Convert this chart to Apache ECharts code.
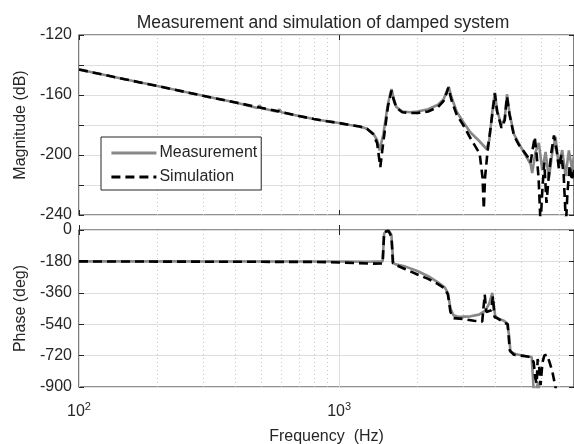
<!DOCTYPE html>
<html>
<head>
<meta charset="utf-8">
<script src="https://cdn.jsdelivr.net/npm/echarts@6/dist/echarts.min.js"></script>
<style>
  html, body { margin: 0; padding: 0; background: #fff; }
  #chart { width: 574px; height: 444px; }
</style>
</head>
<body>
<div id="chart"></div>
<script>
// frequency (Hz), magnitude (dB)
const magMeasured = [
    [100, -143], [150, -149.5], [200, -154], [300, -160.5], [400, -165], [485, -168.6], [495, -167], [505, -168.9],
    [580, -171.2], [590, -169.6], [600, -171.5], [700, -174], [800, -176], [900, -177.5], [1000, -178.7],
    [1100, -180], [1200, -181], [1280, -182.5], [1350, -185.5], [1400, -190], [1430, -197], [1445, -198],
    [1480, -186], [1540, -166], [1590, -156], [1620, -162], [1660, -168], [1750, -171], [1870, -171.5],
    [2000, -171], [2200, -169.5], [2400, -166.5], [2520, -163], [2600, -157], [2640, -154.5], [2700, -161],
    [2830, -171], [3000, -178], [3200, -185], [3450, -190.5], [3690, -196], [3780, -190], [3900, -168],
    [3970, -158.5], [4050, -170], [4200, -180], [4330, -176], [4420, -159.5], [4520, -172], [4700, -186],
    [4900, -192], [5200, -200], [5450, -206], [5525, -212], [5690, -198], [5860, -192], [6040, -210],
    [6220, -198], [6405, -215.6], [6595, -199], [6795, -188], [6995, -208], [7205, -196.7], [7425, -214],
    [7645, -197], [7875, -210], [8000, -200]
];
const magSimulated = [
    [100, -143], [150, -149.5], [200, -154], [300, -160.5], [400, -165], [500, -168.5], [600, -171.3],
    [700, -174], [800, -176], [900, -177.5], [1000, -178.7], [1100, -180], [1200, -181], [1280, -182.5],
    [1350, -186], [1400, -192], [1440, -208], [1470, -195], [1540, -168], [1590, -157], [1620, -163],
    [1660, -168.5], [1750, -171.5], [1870, -172], [2000, -172], [2200, -171], [2400, -168], [2520, -164],
    [2600, -158], [2630, -155], [2700, -163], [2830, -173], [3000, -180], [3180, -188], [3470, -199],
    [3560, -215], [3600, -236], [3640, -215], [3720, -198], [3900, -170], [3970, -159], [4050, -171],
    [4210, -182], [4330, -177], [4420, -161], [4520, -173], [4700, -187], [4900, -193], [5100, -197],
    [5300, -201], [5450, -205], [5550, -196], [5650, -188], [5750, -200], [5850, -216], [5950, -246],
    [6050, -222], [6150, -205], [6270, -232], [6400, -214], [6550, -198], [6700, -187], [6850, -196],
    [7000, -209], [7150, -200], [7300, -213], [7450, -246], [7550, -225], [7700, -207], [7850, -217],
    [8000, -210]
];
// frequency (Hz), phase (deg)
const phaseMeasured = [
    [100, -180], [1000, -181], [1300, -182], [1470, -180], [1490, -20], [1510, -8], [1560, -8], [1590, -30],
    [1615, -190], [1650, -197], [1800, -210], [2000, -235], [2200, -265], [2400, -300], [2550, -330],
    [2620, -360], [2680, -450], [2750, -488], [2900, -498], [3200, -495], [3450, -485], [3650, -462],
    [3780, -420], [3880, -360], [3930, -370], [3980, -490], [4050, -505], [4300, -520], [4420, -535],
    [4500, -600], [4560, -700], [4800, -712], [5200, -722], [5500, -728], [5580, -730], [5620, -960],
    [5830, -870], [5900, -980], [8000, -990]
];
const phaseSimulated = [
    [100, -180], [800, -183], [1000, -186], [1350, -193], [1470, -192], [1490, -12], [1550, -5],
    [1590, -40], [1610, -190], [1650, -200], [1800, -225], [2000, -255], [2200, -280], [2400, -310],
    [2550, -335], [2620, -370], [2680, -470], [2750, -505], [3000, -510], [3300, -520], [3550, -525],
    [3600, -520], [3630, -370], [3680, -470], [3850, -460], [3900, -380], [3960, -500], [4050, -505],
    [4300, -530], [4450, -540], [4530, -690], [4700, -715], [5000, -720], [5300, -725], [5500, -732],
    [5580, -740], [5600, -760], [5680, -850], [5750, -880], [5800, -740], [5880, -790], [5950, -890],
    [6050, -760], [6150, -720], [6300, -715], [6450, -760], [6600, -810], [6700, -820], [6800, -905],
    [6900, -960], [8000, -990]
];
const minorFreqs = [200, 300, 400, 500, 600, 700, 800, 900, 2000, 3000, 4000, 5000, 6000, 7000];
const magRange = [-240, -120, 20];
const phaseRange = [-900, 0, 180];
const freqRange = [100, 8000];

const ink = '#262626';
const font = 'Liberation Sans, Arial, sans-serif';
const chart = echarts.init(document.getElementById('chart'));

const grids = [
    { left: 79, right: 0, top: 35, height: 180 },
    { left: 79, right: 0, top: 230, height: 157 }
];

function powLabel(v) {
    const e = Math.round(Math.log10(v));
    if (Math.abs(Math.pow(10, e) - v) > 1e-6 * v) return '';
    return '{b|10}{s|' + e + '}';
}

function xAxes(gridIndex, showLabel) {
    const base = {
        type: 'log', logBase: 10, gridIndex: gridIndex,
        min: freqRange[0], max: freqRange[1],
        axisLine: { show: false },
        axisTick: { show: true, inside: true, length: 5, lineStyle: { color: ink } },
        splitLine: { show: false },
        axisLabel: { show: false }
    };
    const bottom = Object.assign({}, base, {
        position: 'bottom',
        splitLine: { show: true, lineStyle: { color: '#dedede', width: 1 } },
        axisLabel: {
            show: showLabel, formatter: powLabel, margin: 14, color: ink,
            rich: {
                b: { fontSize: 16, fontFamily: font, color: ink, lineHeight: 22 },
                s: { fontSize: 11, fontFamily: font, color: ink, lineHeight: 11, verticalAlign: 'top' }
            }
        }
    });
    if (showLabel) {
        bottom.name = 'Frequency  (Hz)';
        bottom.nameLocation = 'middle';
        bottom.nameGap = 42;
        bottom.nameTextStyle = { fontSize: 16, fontFamily: font, color: ink };
    }
    const top = Object.assign({}, base, { position: 'top' });
    return [bottom, top];
}

function yAxes(gridIndex, range, name, labelStep) {
    const left = {
        type: 'value', gridIndex: gridIndex, position: 'left',
        min: range[0], max: range[1], interval: range[2],
        name: name, nameLocation: 'middle', nameGap: 45,
        nameTextStyle: { fontSize: 16, fontFamily: font, color: ink },
        axisLine: { show: false },
        axisTick: { show: true, inside: true, length: 5, lineStyle: { color: ink } },
        splitLine: { show: true, lineStyle: { color: '#dedede', width: 1.2 } },
        axisLabel: {
            fontSize: 16, fontFamily: font, color: ink, margin: 7,
            formatter: v => (v % labelStep === 0 ? String(v) : '')
        }
    };
    const right = {
        type: 'value', gridIndex: gridIndex, position: 'right',
        min: range[0], max: range[1], interval: range[2],
        axisLine: { show: false },
        axisTick: { show: true, inside: true, length: 5, lineStyle: { color: ink } },
        splitLine: { show: false },
        axisLabel: { show: false }
    };
    return [left, right];
}

const minorGrid = {
    silent: true, symbol: 'none', z: 1,
    label: { show: false },
    lineStyle: { color: '#c4c4c4', type: [1, 3], width: 1 },
    data: minorFreqs.map(f => ({ xAxis: f }))
};

const measStyle = { color: '#888888', width: 2.6 };
const simStyle = { color: '#000', width: 2.6, type: [9, 5] };

const option = {
    animation: false,
    backgroundColor: '#fff',
    title: {
        text: 'Measurement and simulation of damped system',
        left: 318, top: 9, textAlign: 'center',
        textStyle: { fontSize: 17.5, fontWeight: 'normal', fontFamily: font, color: ink }
    },
    legend: {
        data: ['Measurement', 'Simulation'],
        orient: 'vertical', left: 101, top: 137,
        backgroundColor: '#fff', borderColor: ink, borderWidth: 1, borderRadius: 0,
        padding: [8, 4, 5, 9],
        itemWidth: 45, itemHeight: 14, itemGap: 8,
        itemStyle: { opacity: 0 },
        lineStyle: { width: 2.8 },
        textStyle: { fontSize: 16, fontFamily: font, color: ink, padding: [0, 0, 0, -2] }
    },
    grid: grids.map(g => Object.assign({
        show: true, borderColor: ink, borderWidth: 1.2, backgroundColor: '#fff', outerBoundsMode: 'none'
    }, g)),
    xAxis: [...xAxes(0, false), ...xAxes(1, true)],
    yAxis: [...yAxes(0, magRange, 'Magnitude (dB)', 40), ...yAxes(1, phaseRange, 'Phase (deg)', 180)],
    series: [
        {
            name: 'Measurement', type: 'line', xAxisIndex: 0, yAxisIndex: 0, data: magMeasured,
            symbol: 'none', lineStyle: measStyle, itemStyle: { color: measStyle.color }, z: 3,
            markLine: minorGrid
        },
        {
            name: 'Simulation', type: 'line', xAxisIndex: 0, yAxisIndex: 0, data: magSimulated,
            symbol: 'none', lineStyle: simStyle, itemStyle: { color: '#000' }, z: 4
        },
        {
            name: 'Measurement', type: 'line', xAxisIndex: 2, yAxisIndex: 2, data: phaseMeasured,
            symbol: 'none', lineStyle: measStyle, itemStyle: { color: measStyle.color }, z: 3,
            markLine: minorGrid
        },
        {
            name: 'Simulation', type: 'line', xAxisIndex: 2, yAxisIndex: 2, data: phaseSimulated,
            symbol: 'none', lineStyle: simStyle, itemStyle: { color: '#000' }, z: 4
        }
    ]
};

chart.setOption(option);
window.addEventListener('resize', () => chart.resize());
</script>
</body>
</html>
